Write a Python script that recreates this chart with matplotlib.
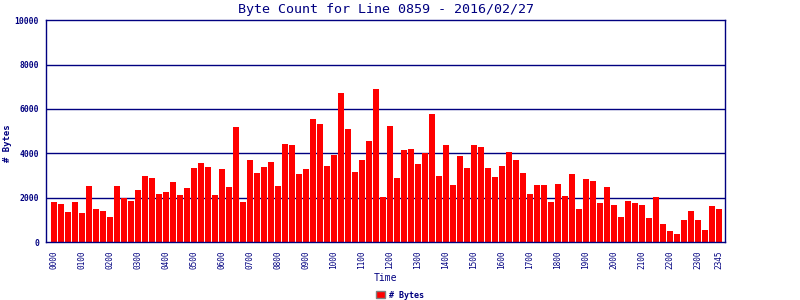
import matplotlib
matplotlib.use("Agg")
import matplotlib.pyplot as plt
from matplotlib.patches import Patch

title = "Byte Count for Line 0859 - 2016/02/27"
series_name = "# Bytes"
x_label = "Time"

byte_counts = [
    1820, 1730, 1369, 1820, 1324, 2542, 1504, 1414, 1143, 2542, 1980, 1865,
    2361, 2993, 2903, 2181, 2271, 2722, 2136, 2452, 3354, 3580, 3399, 2136,
    3309, 2497, 5204, 1820, 3715, 3128, 3399, 3625, 2542, 4437, 4392, 3083,
    3309, 5565, 5339, 3444, 3940, 6738, 5114, 3173, 3715, 4572, 6918, 2045,
    5249, 2903, 4166, 4211, 3534, 4000, 5790, 2993, 4392, 2587, 3895, 3354,
    4392, 4301, 3354, 2948, 3444, 4076, 3715, 3128, 2181, 2587, 2587, 1820,
    2632, 2091, 3083, 1504, 2858, 2767, 1775, 2497, 1684, 1143, 1865, 1775,
    1684, 1098, 2045, 827, 511, 376, 1008, 1414, 1008, 556, 1639, 1504,
]
tick_positions = list(range(0, 96, 4)) + [95]
tick_labels = ["%02d00" % h for h in range(24)] + ["2345"]
y_ticks = [0, 2000, 4000, 6000, 8000, 10000]

navy = "#000080"
mono = "DejaVu Sans Mono"

fig = plt.figure(figsize=(8, 3), dpi=100)
ax = fig.add_axes([46 / 800, 1 - 242 / 300, (725 - 46) / 800, (242 - 20.3) / 300])

x = list(range(len(byte_counts)))
ax.bar(x, byte_counts, width=0.86, color="#FF0000", zorder=2)

ax.set_xlim(-1.1, 95.86)
ax.set_ylim(0, 10000)
ax.set_axisbelow(True)
for v in y_ticks[1:-1]:
    ax.axhline(v, color=navy, lw=1.0, zorder=1)

for s in ax.spines.values():
    s.set_color(navy)
    s.set_linewidth(1.0)

ax.set_yticks(y_ticks)
ax.set_yticklabels([str(v) for v in y_ticks], family=mono, fontsize=5.8,
                   fontweight="bold", color=navy)
ax.tick_params(axis="y", length=0, pad=5)
ax.set_xticks(tick_positions)
ax.set_xticklabels(tick_labels, rotation=90, family=mono, fontsize=5.6,
                   color=navy)
ax.tick_params(axis="x", length=0, pad=6)

fig.text(385.5 / 800, 1 - 10 / 300, title, ha="center", va="center",
         family=mono, fontsize=9.6, color=navy)
fig.text(385 / 800, 1 - 278 / 300, x_label, ha="center", va="center",
         family=mono, fontsize=7, color=navy)
fig.text(8 / 800, 1 - 143 / 300, series_name, ha="center", va="center",
         rotation=90, family=mono, fontsize=6.5, fontweight="bold", color=navy)

handle = Patch(facecolor="#FF0000", edgecolor="#808080", linewidth=1.0)
fig.legend([handle], [series_name], loc="center", bbox_to_anchor=(400 / 800, 1 - 295 / 300),
           frameon=False, prop={"family": mono, "size": 6, "weight": "bold"},
           labelcolor=navy, handlelength=1.1, handleheight=0.9, handletextpad=0.4,
           borderpad=0)

fig.savefig("out.png", dpi=100)
